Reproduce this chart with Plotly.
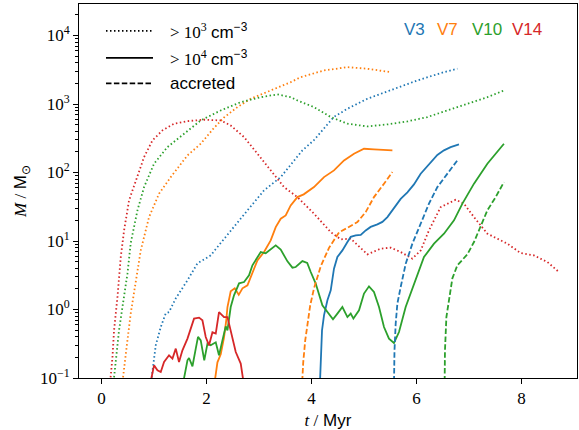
import plotly.graph_objects as go

# ---------------- data (t in Myr, log10 of M in Msun) ----------------
# > 1e3 cm^-3 (dotted)
v3_d3_t = [0.94, 0.956, 1.033, 1.128, 1.223, 1.286, 1.414, 1.637, 1.827, 1.985, 2.08, 2.208, 2.461, 2.78, 3.096, 3.414, 3.827, 4.043, 4.424, 4.685, 5.066, 5.567, 6.018, 6.462, 6.780]
v3_d3_logM = [-1.05, -0.985, -0.523, -0.256, -0.056, -0.037, 0.163, 0.426, 0.674, 0.747, 0.79, 0.912, 1.155, 1.447, 1.739, 1.933, 2.323, 2.469, 2.809, 2.931, 3.077, 3.223, 3.344, 3.451, 3.515]

v7_d3_t = [0.40, 0.41, 0.429, 0.493, 0.556, 0.652, 0.747, 0.905, 1.095, 1.318, 1.637, 1.89, 2.143, 2.334, 2.589, 2.842, 3.223, 3.604, 3.795, 4.239, 4.685, 5.066, 5.51]
v7_d3_logM = [-1.05, -0.985, -0.79, -0.45, -0.056, 0.426, 0.864, 1.349, 1.691, 1.933, 2.25, 2.42, 2.651, 2.804, 2.955, 3.077, 3.199, 3.319, 3.392, 3.49, 3.538, 3.515, 3.465]

v10_d3_t = [0.23, 0.238, 0.271, 0.333, 0.398, 0.493, 0.556, 0.684, 0.81, 1.0, 1.255, 1.572, 1.89, 2.271, 2.652, 3.033, 3.351, 3.604, 3.732, 4.048, 4.367, 4.685, 5.066, 5.447, 5.828, 6.209, 6.59, 6.971, 7.352, 7.668]
v10_d3_logM = [-1.05, -0.985, -0.694, -0.304, 0.036, 0.523, 0.97, 1.447, 1.787, 2.129, 2.371, 2.566, 2.761, 2.906, 3.027, 3.1, 3.14, 3.1, 3.052, 2.955, 2.809, 2.712, 2.673, 2.702, 2.746, 2.809, 2.906, 3.004, 3.1, 3.198]

v14_d3_t = [0.165, 0.175, 0.208, 0.238, 0.303, 0.366, 0.429, 0.524, 0.652, 0.81, 0.97, 1.16, 1.381, 1.637, 1.953, 2.271, 2.461, 2.715, 2.97, 3.223, 3.477, 3.732, 4.048, 4.367, 4.557, 4.748, 5.066, 5.319, 5.51, 5.7, 5.923, 6.082, 6.239, 6.462, 6.748, 6.906, 7.097, 7.352, 7.733, 7.986, 8.24, 8.495, 8.716]
v14_d3_logM = [-1.05, -0.985, -0.694, -0.304, 0.182, 0.766, 1.155, 1.593, 1.885, 2.225, 2.469, 2.615, 2.712, 2.75, 2.771, 2.76, 2.687, 2.517, 2.275, 2.031, 1.787, 1.641, 1.399, 1.13, 1.024, 1.034, 0.805, 0.888, 0.903, 0.839, 0.742, 0.863, 1.155, 1.495, 1.603, 1.545, 1.349, 1.107, 0.961, 0.824, 0.79, 0.693, 0.547]

# > 1e4 cm^-3 (solid)
v3_d4_t = [4.163, 4.182, 4.201, 4.239, 4.304, 4.367, 4.429, 4.494, 4.589, 4.685, 4.748, 4.843, 4.939, 5.033, 5.128, 5.256, 5.351, 5.447, 5.572, 5.7, 5.828, 5.953, 6.081, 6.239, 6.399, 6.525, 6.652, 6.811]
v3_d4_logM = [-1.05, -0.596, -0.304, -0.085, 0.134, 0.28, 0.596, 0.766, 0.863, 0.985, 1.06, 1.082, 1.09, 1.155, 1.206, 1.243, 1.279, 1.349, 1.472, 1.615, 1.71, 1.827, 1.983, 2.118, 2.257, 2.323, 2.371, 2.41]

v7_d4_t = [2.157, 2.208, 2.271, 2.334, 2.376, 2.399, 2.461, 2.538, 2.614, 2.685, 2.78, 2.875, 2.97, 3.096, 3.223, 3.319, 3.414, 3.509, 3.604, 3.732, 3.852, 4.048, 4.239, 4.429, 4.62, 4.81, 5.001, 5.191, 5.542]
v7_d4_logM = [-1.05, -0.771, -0.654, -0.406, -0.158, 0.036, 0.265, 0.309, 0.214, 0.309, 0.353, 0.523, 0.717, 0.839, 1.009, 1.203, 1.326, 1.374, 1.52, 1.641, 1.681, 1.787, 1.933, 2.031, 2.177, 2.274, 2.347, 2.337, 2.323]

v10_d4_t = [1.56, 1.637, 1.667, 1.732, 1.795, 1.838, 1.89, 1.957, 2.018, 2.08, 2.176, 2.238, 2.303, 2.366, 2.399, 2.461, 2.524, 2.62, 2.715, 2.81, 2.875, 2.97, 3.033, 3.128, 3.223, 3.319, 3.414, 3.542, 3.637, 3.7, 3.827, 3.919, 3.986, 4.081, 4.208, 4.334, 4.41, 4.494, 4.589, 4.685, 4.748, 4.799, 4.906, 5.001, 5.096, 5.191, 5.287, 5.382, 5.477, 5.572, 5.668, 5.795, 5.953, 6.144, 6.335, 6.525, 6.716, 6.876, 7.097, 7.352, 7.668]
v10_d4_logM = [-1.05, -0.742, -0.708, -0.829, -0.571, -0.399, -0.45, -0.742, -0.498, -0.523, -0.479, -0.669, -0.45, -0.246, -0.304, 0.036, 0.207, 0.382, 0.401, 0.499, 0.645, 0.766, 0.839, 0.82, 0.874, 0.936, 0.874, 0.703, 0.611, 0.62, 0.707, 0.681, 0.547, 0.378, 0.061, -0.06, -0.143, -0.06, 0.036, -0.11, -0.06, -0.133, -0.012, 0.232, 0.338, 0.255, 0.036, -0.256, -0.425, -0.489, -0.329, 0.036, 0.378, 0.766, 0.961, 1.107, 1.301, 1.545, 1.837, 2.129, 2.42]

v14_d4_t = [0.937, 1.0, 1.065, 1.128, 1.191, 1.286, 1.351, 1.414, 1.476, 1.541, 1.637, 1.762, 1.858, 1.922, 1.985, 2.048, 2.113, 2.176, 2.238, 2.334, 2.399, 2.461, 2.557, 2.652, 2.703]
v14_d4_logM = [-1.05, -0.815, -0.888, -0.912, -0.767, -0.669, -0.717, -0.571, -0.767, -0.596, -0.425, -0.133, -0.119, -0.158, -0.402, -0.523, -0.333, -0.352, -0.037, -0.11, -0.11, -0.319, -0.621, -0.79, -1.05]

# accreted (dashed)
v3_acc_t = [5.573, 5.582, 5.605, 5.637, 5.7, 5.796, 5.923, 6.081, 6.239, 6.399, 6.59, 6.78]
v3_acc_logM = [-1.05, -0.596, -0.206, 0.086, 0.328, 0.669, 0.961, 1.253, 1.545, 1.787, 1.983, 2.177]

v7_acc_t = [3.824, 3.843, 3.881, 3.923, 3.976, 4.048, 4.176, 4.334, 4.525, 4.685, 4.875, 5.033, 5.191, 5.382, 5.542]
v7_acc_logM = [-1.05, -0.771, -0.45, -0.216, 0.061, 0.309, 0.63, 0.9, 1.126, 1.192, 1.276, 1.422, 1.641, 1.837, 2.006]

v10_acc_t = [6.538, 6.544, 6.571, 6.615, 6.685, 6.78, 6.876, 6.971, 7.097, 7.224, 7.352, 7.51, 7.668]
v10_acc_logM = [-1.05, -0.596, -0.11, 0.134, 0.455, 0.645, 0.732, 0.805, 0.985, 1.203, 1.447, 1.641, 1.86]

run_names = ["V3", "V7", "V10", "V14"]
run_colors = ["#1f77b4", "#ff7f0e", "#2ca02c", "#d62728"]

x_tickvals = [0, 2, 4, 6, 8]
y_tickvals = [0.1, 1, 10, 100, 1000, 10000]
y_ticktext = ["10<sup>−1</sup>", "10<sup>0</sup>", "10<sup>1</sup>", "10<sup>2</sup>", "10<sup>3</sup>", "10<sup>4</sup>"]

# ---------------- figure ----------------
SERIF = "Liberation Serif"
SANS = "Liberation Sans"
DOT = "1.5px,2.5px"
DASH = "5.5px,2.4px"
LW = 1.8

series = [
    (v3_d3_t, v3_d3_logM, 0, DOT), (v7_d3_t, v7_d3_logM, 1, DOT),
    (v10_d3_t, v10_d3_logM, 2, DOT), (v14_d3_t, v14_d3_logM, 3, DOT),
    (v3_d4_t, v3_d4_logM, 0, "solid"), (v7_d4_t, v7_d4_logM, 1, "solid"),
    (v10_d4_t, v10_d4_logM, 2, "solid"), (v14_d4_t, v14_d4_logM, 3, "solid"),
    (v3_acc_t, v3_acc_logM, 0, DASH), (v7_acc_t, v7_acc_logM, 1, DASH),
    (v10_acc_t, v10_acc_logM, 2, DASH),
]

fig = go.Figure()
for t, lm, ci, dash in series:
    fig.add_trace(go.Scatter(
        x=t, y=[10 ** v for v in lm], mode="lines",
        line=dict(color=run_colors[ci], width=LW, dash=dash),
        showlegend=False, hoverinfo="skip"))

minor_vals = []
for e in range(-1, 5):
    for k in range(2, 10):
        minor_vals.append(k * 10 ** e)

SER_SPAN = "<span style='font-family:Liberation Serif'>"

fig.update_layout(
    width=579, height=430,
    margin=dict(l=79, r=2, t=4, b=52),
    paper_bgcolor="white", plot_bgcolor="white",
    xaxis=dict(
        range=[-0.43, 9.06], tickvals=x_tickvals,
        ticks="outside", ticklen=5, tickwidth=1, tickcolor="black",
        showline=True, linecolor="black", linewidth=1, mirror=True,
        showgrid=False, zeroline=False,
        tickfont=dict(family=SERIF, size=17, color="black"),
        title=dict(text=SER_SPAN + "<i>t</i> /</span> Myr",
                   font=dict(family=SANS, size=17, color="black"), standoff=8),
    ),
    yaxis=dict(
        type="log", range=[-1, 4.46], tickvals=y_tickvals, ticktext=y_ticktext,
        ticks="outside", ticklen=5, tickwidth=1, tickcolor="black",
        minor=dict(tickvals=minor_vals, ticks="outside", ticklen=3, tickcolor="black", showgrid=False),
        showline=True, linecolor="black", linewidth=1, mirror=True,
        showgrid=False, zeroline=False,
        tickfont=dict(family=SERIF, size=17, color="black"),
        title=dict(text=SER_SPAN + "<i>M</i> /</span> M<sub>⊙</sub>",
                   font=dict(family=SANS, size=17, color="black"), standoff=8),
    ),
)

# legend drawn manually (paper coordinates)
leg_rows = [(0.928, DOT, "> 10<sup>3</sup>"), (0.856, "solid", "> 10<sup>4</sup>"), (0.788, DASH, None)]
for y, dash, lab in leg_rows:
    fig.add_shape(type="line", xref="paper", yref="paper", x0=0.0542, x1=0.1486, y0=y, y1=y,
                  line=dict(color="black", width=LW, dash=dash))
    if lab is None:
        txt = "<span style='font-family:Liberation Sans'>accreted</span>"
    else:
        txt = lab + " <span style='font-family:Liberation Sans'>cm<sup>−3</sup></span>"
    fig.add_annotation(x=0.1787, y=y, xref="paper", yref="paper", xanchor="left", yanchor="middle",
                       text=txt, showarrow=False, font=dict(family=SERIF, size=17, color="black"))

label_x = [0.6486, 0.7149, 0.785, 0.8655]
for name, col, lx in zip(run_names, run_colors, label_x):
    fig.add_annotation(x=lx, y=0.9305, xref="paper", yref="paper", xanchor="left", yanchor="middle",
                       text=name, showarrow=False, font=dict(family=SANS, size=17, color=col))

fig.write_html("out.html")
